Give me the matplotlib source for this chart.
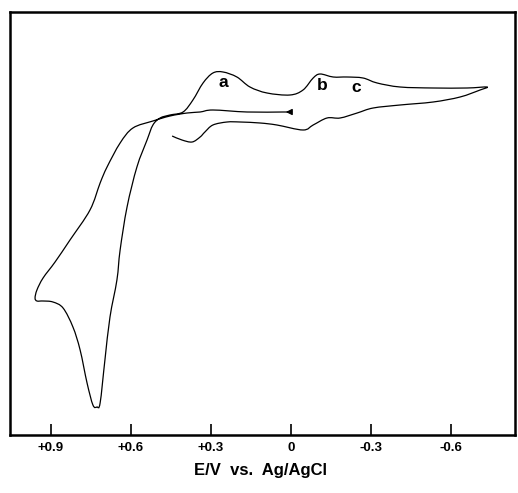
import matplotlib
matplotlib.use("Agg")
import matplotlib.pyplot as plt
from matplotlib.path import Path
from matplotlib.patches import PathPatch

# Potential (V vs Ag/AgCl) and current (arbitrary units)
potential = [-0.004, 0.030, 0.165, 0.293, 0.341, 0.390, 0.454, 0.518, 0.593, 0.641,
             0.690, 0.716, 0.754, 0.829, 0.885, 0.930, 0.953, 0.960, 0.953, 0.930,
             0.893, 0.855, 0.818, 0.791, 0.765, 0.743, 0.728, 0.716, 0.698, 0.679,
             0.653, 0.641, 0.615, 0.578, 0.540, 0.518, 0.491, 0.454, 0.405, 0.368,
             0.330, 0.293, 0.255, 0.203, 0.154, 0.090, 0.004, -0.045, -0.083, -0.109,
             -0.158, -0.210, -0.270, -0.323, -0.409, -0.533, -0.660, -0.735, -0.709, -0.634,
             -0.533, -0.409, -0.308, -0.248, -0.184, -0.135, -0.083, -0.045, 0.053, 0.116,
             0.191, 0.240, 0.293, 0.323, 0.341, 0.371, 0.409, 0.446]
current = [32.3, 32.3, 32.3, 32.5, 32.3, 32.2, 31.9, 31.4, 30.7, 29.2,
           26.8, 25.2, 22.5, 19.5, 17.3, 15.7, 14.5, 13.7, 13.4, 13.4,
           13.3, 12.7, 10.8, 8.5, 5.2, 3.0, 2.8, 3.2, 7.5, 11.8,
           15.5, 18.5, 22.8, 26.8, 29.5, 31.0, 31.7, 32.0, 32.3, 33.5,
           35.2, 36.2, 36.3, 35.8, 34.8, 34.2, 34.0, 34.5, 35.7, 36.1,
           35.8, 35.8, 35.7, 35.2, 34.8, 34.7, 34.7, 34.8, 34.5, 33.8,
           33.3, 33.0, 32.7, 32.2, 31.7, 31.7, 31.0, 30.5, 31.0, 31.2,
           31.3, 31.3, 31.0, 30.3, 29.8, 29.3, 29.5, 29.9]

peak_labels = ["a", "b", "c"]
peak_label_E = [0.255, -0.116, -0.244]
peak_label_I = [35.2, 34.9, 34.7]

arrow_E = [-0.004, 0.030]
arrow_I = [32.3, 32.3]

tick_values = [0.9, 0.6, 0.3, 0.0, -0.3, -0.6]
tick_labels = ["+0.9", "+0.6", "+0.3", "0", "-0.3", "-0.6"]

W, H = 518, 493
fig = plt.figure(figsize=(W / 100, H / 100), dpi=100)
ax = fig.add_axes([10 / W, 1 - 435 / H, 505 / W, 423 / H])

# Smooth trace: Catmull-Rom segments rendered as cubic Bezier path in data coords
verts = [(potential[0], current[0])]
codes = [Path.MOVETO]
n = len(potential)
for k in range(n - 1):
    p0 = (potential[max(k - 1, 0)], current[max(k - 1, 0)])
    p1 = (potential[k], current[k])
    p2 = (potential[k + 1], current[k + 1])
    p3 = (potential[min(k + 2, n - 1)], current[min(k + 2, n - 1)])
    c1 = (p1[0] + (p2[0] - p0[0]) / 6, p1[1] + (p2[1] - p0[1]) / 6)
    c2 = (p2[0] - (p3[0] - p1[0]) / 6, p2[1] - (p3[1] - p1[1]) / 6)
    verts += [c1, c2, p2]
    codes += [Path.CURVE4] * 3
ax.add_patch(PathPatch(Path(verts, codes), fill=False, edgecolor="black", lw=0.9))

ax.annotate("", xy=(arrow_E[1], arrow_I[1]), xytext=(arrow_E[0], arrow_I[0]),
            arrowprops=dict(arrowstyle="-|>", color="black", lw=0.9,
                            mutation_scale=9))

for lab, e, i in zip(peak_labels, peak_label_E, peak_label_I):
    ax.text(e, i, lab, ha="center", va="center", fontsize=12.5,
            fontweight="bold", family="Liberation Sans")

ax.set_xlim(1.054, -0.84)
ax.set_ylim(0, 42.3)
ax.set_yticks([])
ax.set_xticks(tick_values)
ax.set_xticklabels(tick_labels, fontsize=9.5, fontweight="bold",
                   family="Liberation Sans")
ax.tick_params(axis="x", direction="in", length=8, width=1.2, pad=5)
for s in ax.spines.values():
    s.set_linewidth(1.8)

fig.text(0.5 + 2 / W, 1 - 470 / H, "E/V  vs.  Ag/AgCl", ha="center", va="center",
         fontsize=12, fontweight="bold", family="Liberation Sans")

fig.savefig("out.png", dpi=100)
